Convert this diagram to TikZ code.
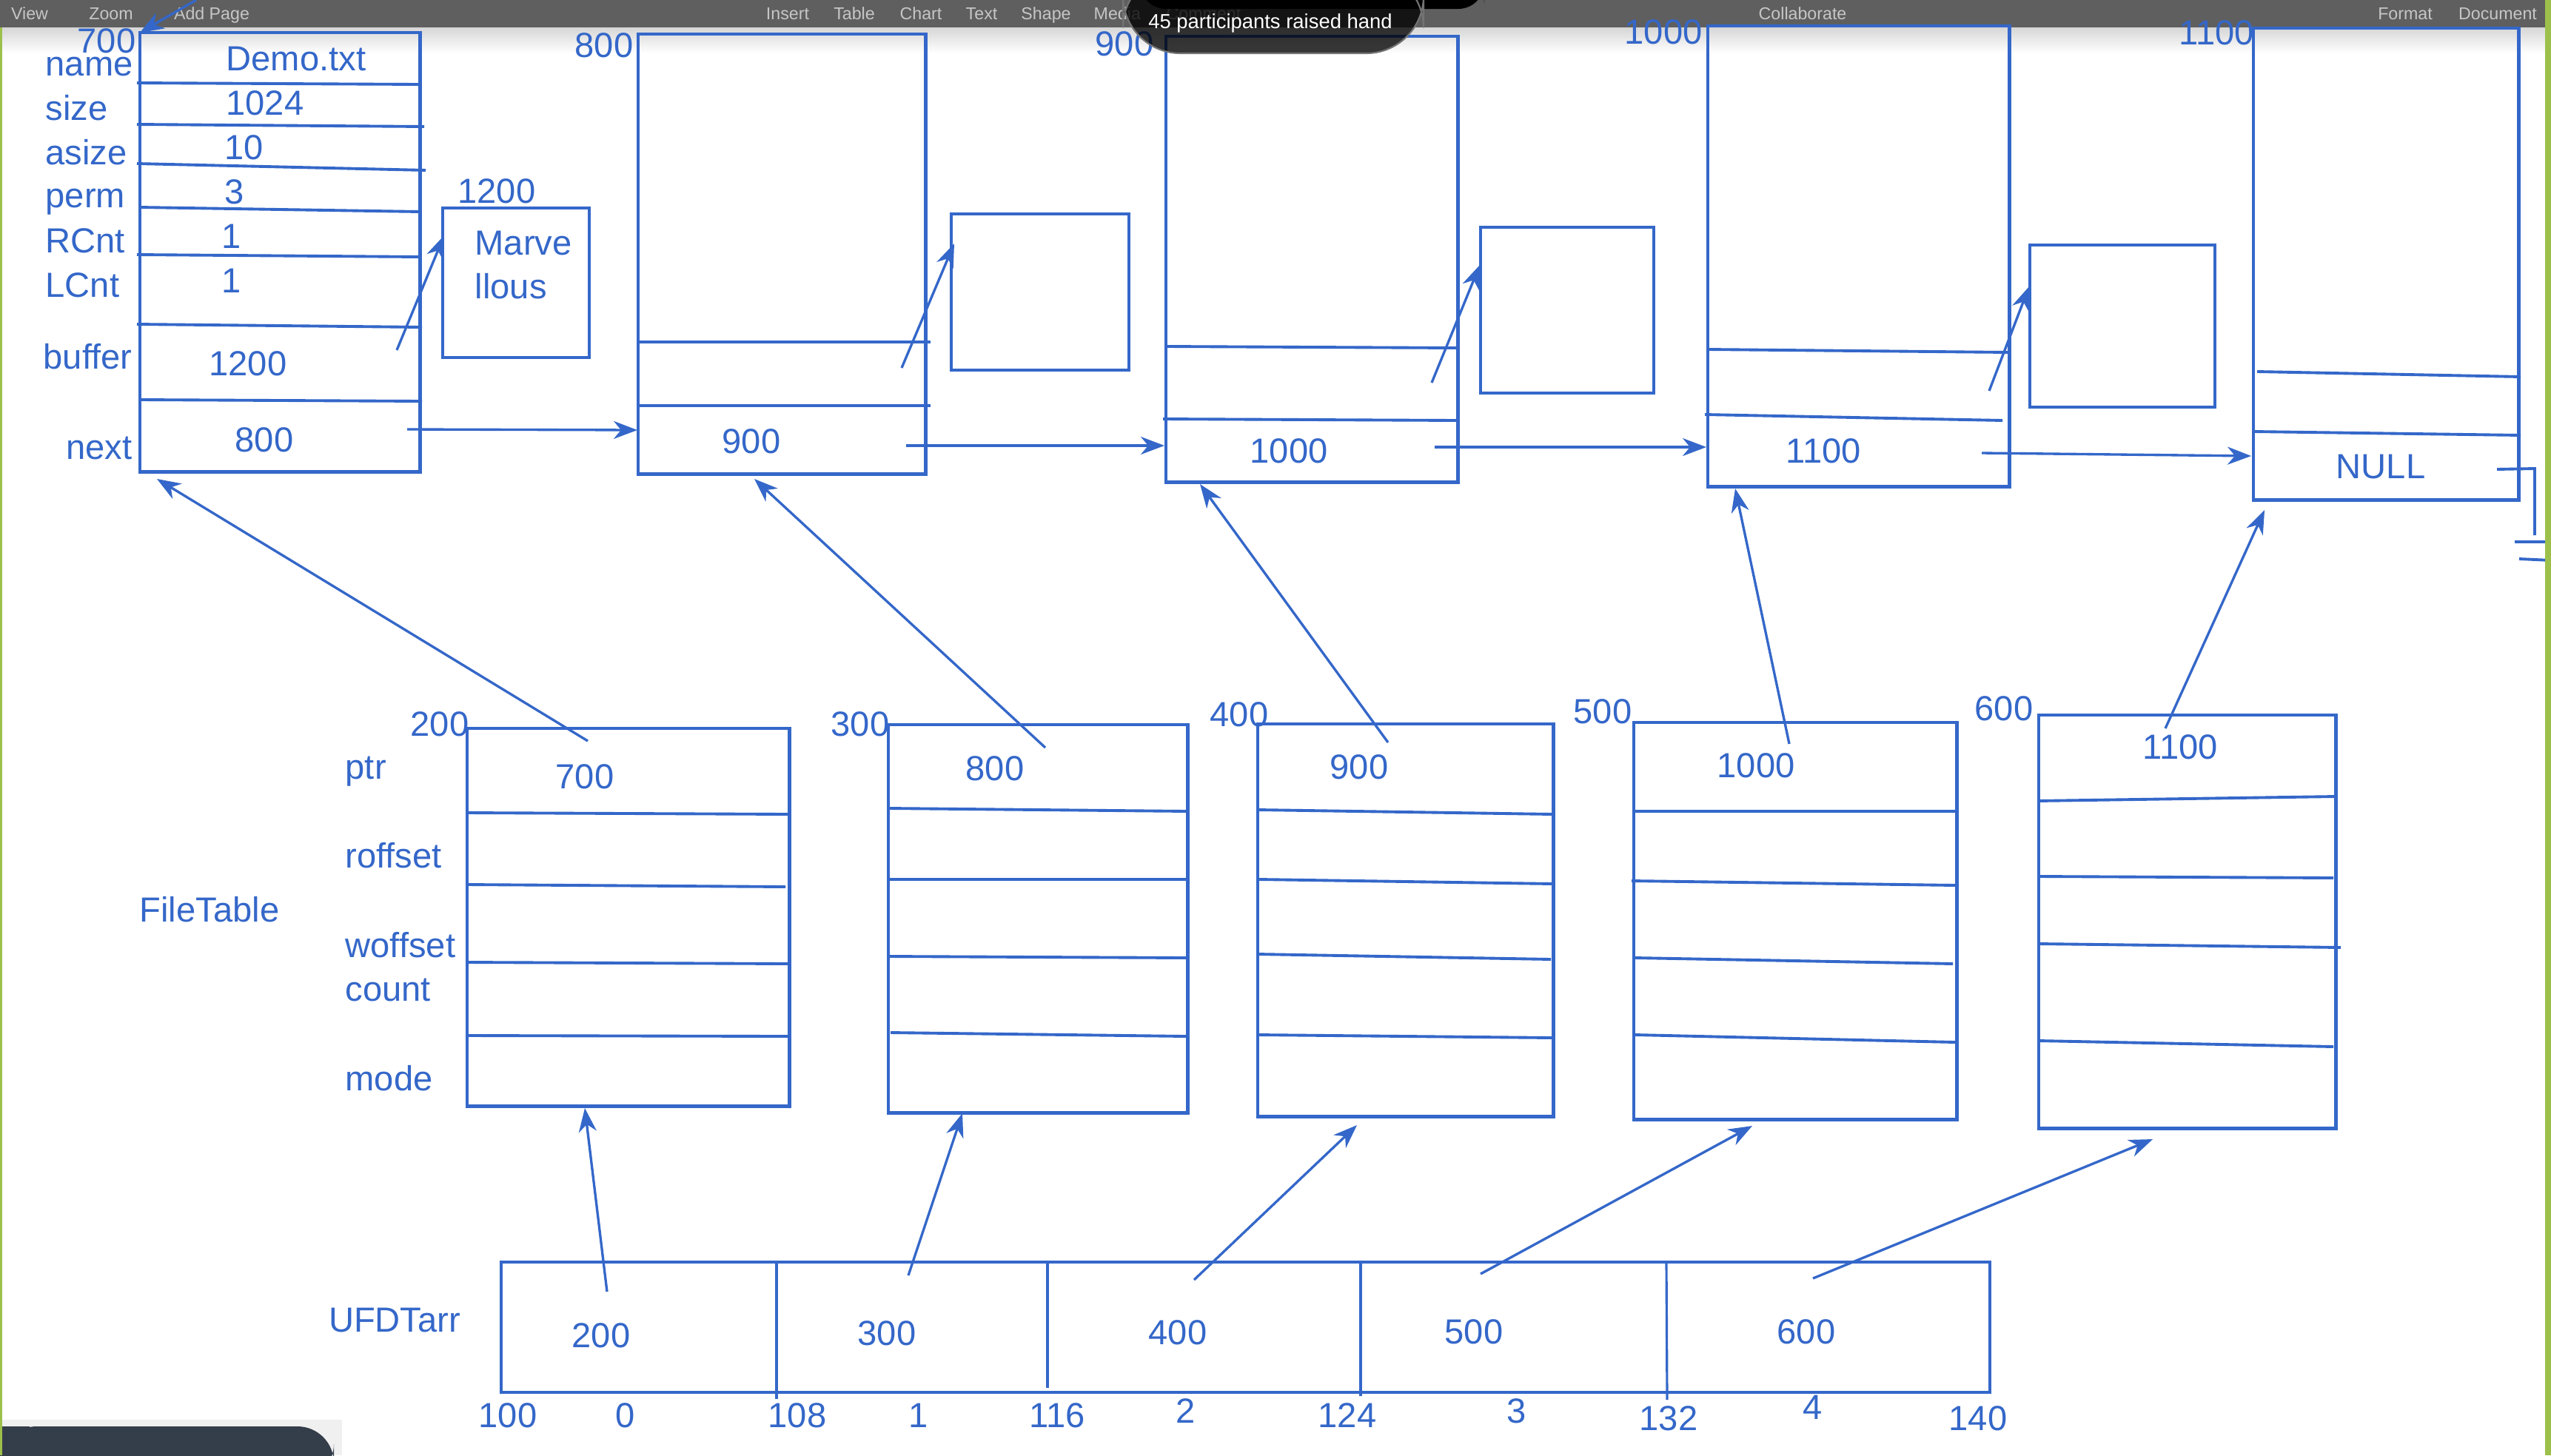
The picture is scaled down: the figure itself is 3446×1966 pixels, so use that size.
\documentclass[tikz,border=0pt]{standalone}
\usepackage{fontspec}
\setmainfont{Liberation Sans}
\usetikzlibrary{arrows.meta}
\definecolor{ink}{HTML}{3467C9}
\definecolor{barbg}{HTML}{5F5F5F}
\definecolor{bartext}{HTML}{C6C6C6}
\definecolor{edge}{HTML}{9CC04A}
\definecolor{chat}{HTML}{343D4A}
\begin{document}
\begin{tikzpicture}[x=0.01cm,y=-0.01cm,
  cellbox/.style={draw=ink, line width=1.3pt, inner sep=0pt, outer sep=0pt, anchor=north west},
  rowline/.style={draw=ink, line width=1.1pt},
  divline/.style={draw=ink, line width=0.9pt},
  arr/.style={draw=ink, line width=0.95pt, -{Stealth[length=0.32cm,width=0.24cm,inset=0.1cm]}},
  txt/.style={text=ink, font=\fontsize{13.4}{16}\selectfont, inner sep=0pt, text height=9.6pt, text depth=0pt},
  tb/.style={text=bartext, font=\fontsize{6.6}{8}\selectfont, inner sep=0pt, text height=4.7pt, text depth=0pt}]
\useasboundingbox (0,0) rectangle (3446,1966);
\clip (0,0) rectangle (3446,1966);
\fill[white] (0,0) rectangle (3446,1966);
% toolbar
\fill[barbg] (0,0) rectangle (3438,37);
\shade[top color=black!16, bottom color=white] (3,37) rectangle (3438,72);
\node[tb] (tbview) at (40,18) {View};
\node[tb] (tbzoom) at (150,18) {Zoom};
\node[tb] (tbadd) at (286,18) {Add Page};
\node[tb] (tbinsert) at (1064,18) {Insert};
\node[tb] (tbtable) at (1154,18) {Table};
\node[tb] (tbchart) at (1244,18) {Chart};
\node[tb] (tbtext) at (1326,18) {Text};
\node[tb] (tbshape) at (1413,18) {Shape};
\node[tb, anchor=west] (tbmedia) at (1477,18) {Media};
\node[tb] (tbcomment) at (1626,18) {Comment};
\node[tb] (tbcollab) at (2435,18) {Collaborate};
\node[tb] (tbformat) at (3249,18) {Format};
\node[tb] (tbdoc) at (3374,18) {Document};

% ---------- inode 700 ----------
\node[cellbox, minimum width=3.78cm, minimum height=5.93cm] (n700) at (189,44) {};
\draw[rowline] (185,112) -- (566,114);
\draw[rowline] (185,168) -- (573,171);
\draw[rowline] (185,221) -- (575,230);
\draw[rowline] (189,280) -- (567,286);
\draw[rowline] (185,344) -- (567,347);
\draw[rowline] (185,438) -- (570,442);
\draw[rowline] (189,540) -- (570,542);
\node[txt, anchor=east] (l700) at (184,55) {700};
\node[txt, anchor=west] (lname) at (61,86) {name};
\node[txt, anchor=west] (lsize) at (61,146) {size};
\node[txt, anchor=west] (lasize) at (61,206) {asize};
\node[txt, anchor=west] (lperm) at (61,264) {perm};
\node[txt, anchor=west] (lrcnt) at (61,325) {RCnt};
\node[txt, anchor=west] (llcnt) at (61,385) {LCnt};
\node[txt, anchor=east] (lbuffer) at (179,482) {buffer};
\node[txt, anchor=east] (lnext) at (179,604) {next};
\node[txt] (vname) at (400,79) {Demo.txt};
\node[txt] (vsize) at (358,139) {1024};
\node[txt] (vasize) at (330,199) {10};
\node[txt] (vperm) at (317,259) {3};
\node[txt] (vrcnt) at (313,319) {1};
\node[txt] (vlcnt) at (313,379) {1};
\node[txt] (vbuf) at (335,491) {1200};
\node[txt] (vnext) at (357,594) {800};

% Marvellous block
\node[cellbox, minimum width=1.98cm, minimum height=2.02cm] (nmarv) at (598,281) {};
\node[txt] (l1200) at (671,258) {1200};
\node[txt, anchor=west] (tmarve) at (641,328) {Marve};
\node[txt, anchor=west] (tllous) at (641,387) {llous};

% ---------- block 800 ----------
\node[cellbox, minimum width=3.88cm, minimum height=5.94cm] (n800) at (862,46) {};
\draw[rowline] (862,462) -- (1257,462);
\draw[rowline] (862,548) -- (1257,548);
\node[txt] (l800) at (816,61) {800};
\node[txt] (v800next) at (1015,596) {900};
\node[cellbox, minimum width=2.40cm, minimum height=2.11cm] (b800) at (1285,289) {};

% ---------- block 900 ----------
\node[cellbox, minimum width=3.94cm, minimum height=6.02cm] (n900) at (1575,49) {};
\draw[rowline] (1575,468) -- (1967,470);
\draw[rowline] (1571,566) -- (1969,568);
\node[txt] (l900) at (1519,59) {900};
\node[txt] (v900next) at (1741,609) {1000};
\node[cellbox, minimum width=2.34cm, minimum height=2.24cm] (b900) at (2000,307) {};

% ---------- block 1000 ----------
\node[cellbox, minimum width=4.07cm, minimum height=6.22cm] (n1000) at (2307,35) {};
\draw[rowline] (2307,472) -- (2712,476);
\draw[rowline] (2303,560) -- (2705,568);
\node[txt] (l1000) at (2247,43) {1000};
\node[txt] (v1000next) at (2463,609) {1100};
\node[cellbox, minimum width=2.50cm, minimum height=2.19cm] (b1000) at (2742,331) {};

% ---------- block 1100 ----------
\node[cellbox, minimum width=3.58cm, minimum height=6.37cm] (n1100) at (3044,38) {};
\draw[rowline] (3049,502) -- (3405,509);
\draw[rowline] (3045,583) -- (3405,588);
\node[txt] (l1100) at (2994,44) {1100};
\node[txt] (vnull) at (3216,630) {NULL};
\draw[ink, line width=1.1pt] (3373,634) -- (3424,633) -- (3424,723);
\draw[ink, line width=1.1pt] (3397,732) -- (3446,732);
\draw[ink, line width=1.1pt] (3403,755) -- (3446,757);

% ---------- arrows in the upper row ----------
\coordinate (s0) at (265,0);
\draw[arr] (s0) -- (n700.north west);
\coordinate (sm) at (536,473); \coordinate (tm) at (600,318);
\draw[arr] (sm) -- (tm);
\coordinate (sn1) at (550,580); \coordinate (tn1) at (861,581);
\draw[arr] (sn1) -- (tn1);
\coordinate (sb8) at (1218,497); \coordinate (tb8) at (1289,329);
\draw[arr] (sb8) -- (tb8);
\coordinate (sn2) at (1224,602); \coordinate (tn2) at (1573,602);
\draw[arr] (sn2) -- (tn2);
\coordinate (sb9) at (1934,517); \coordinate (tb9) at (1999,358);
\draw[arr] (sb9) -- (tb9);
\coordinate (sn3) at (1938,604); \coordinate (tn3) at (2305,604);
\draw[arr] (sn3) -- (tn3);
\coordinate (sb10) at (2687,528); \coordinate (tb10) at (2741,387);
\draw[arr] (sb10) -- (tb10);
\coordinate (sn4) at (2677,612); \coordinate (tn4) at (3041,616);
\draw[arr] (sn4) -- (tn4);

% ---------- file table ----------
\node[txt] (lft) at (283,1229) {FileTable};
\node[txt, anchor=west] (lptr) at (466,1036) {ptr};
\node[txt, anchor=west] (lroff) at (466,1156) {roffset};
\node[txt, anchor=west] (lwoff) at (466,1277) {woffset};
\node[txt, anchor=west] (lcount) at (466,1336) {count};
\node[txt, anchor=west] (lmode) at (466,1457) {mode};

\node[cellbox, minimum width=4.35cm, minimum height=5.10cm] (f200) at (631,984) {};
\draw[rowline] (631,1098) -- (1066,1100);
\draw[rowline] (631,1195) -- (1061,1198);
\draw[rowline] (631,1300) -- (1066,1302);
\draw[rowline] (633,1399) -- (1066,1400);
\node[txt] (l200) at (594,978) {200};
\node[txt] (v200) at (790,1049) {700};

\node[cellbox, minimum width=4.04cm, minimum height=5.24cm] (f300) at (1200,979) {};
\draw[rowline] (1201,1092) -- (1604,1096);
\draw[rowline] (1200,1188) -- (1604,1188);
\draw[rowline] (1200,1292) -- (1604,1294);
\draw[rowline] (1203,1395) -- (1602,1400);
\node[txt] (l300) at (1162,978) {300};
\node[txt] (v300) at (1344,1038) {800};

\node[cellbox, minimum width=3.99cm, minimum height=5.30cm] (f400) at (1699,978) {};
\draw[rowline] (1699,1094) -- (2097,1100);
\draw[rowline] (1701,1188) -- (2097,1194);
\draw[rowline] (1699,1289) -- (2095,1296);
\draw[rowline] (1699,1398) -- (2097,1402);
\node[txt] (l400) at (1674,965) {400};
\node[txt] (v400) at (1836,1036) {900};

\node[cellbox, minimum width=4.36cm, minimum height=5.36cm] (f500) at (2207,976) {};
\draw[rowline] (2209,1096) -- (2641,1096);
\draw[rowline] (2204,1190) -- (2641,1196);
\draw[rowline] (2209,1294) -- (2638,1302);
\draw[rowline] (2209,1398) -- (2641,1408);
\node[txt] (l500) at (2165,961) {500};
\node[txt] (v500) at (2372,1034) {1000};

\node[cellbox, minimum width=4.01cm, minimum height=5.58cm] (f600) at (2754,966) {};
\draw[rowline] (2752,1082) -- (3155,1076);
\draw[rowline] (2754,1184) -- (3152,1186);
\draw[rowline] (2754,1275) -- (3162,1280);
\draw[rowline] (2754,1406) -- (3152,1414);
\node[txt] (l600) at (2707,957) {600};
\node[txt] (v600) at (2945,1009) {1100};

% arrows file table -> blocks
\coordinate (sf1) at (794,1001); \coordinate (tf1) at (212,647);
\draw[arr] (sf1) -- (tf1);
\coordinate (sf2) at (1412,1010); \coordinate (tf2) at (1019,647);
\draw[arr] (sf2) -- (tf2);
\coordinate (sf3) at (1875,1003); \coordinate (tf3) at (1621,654);
\draw[arr] (sf3) -- (tf3);
\coordinate (sf4) at (2417,1005); \coordinate (tf4) at (2344,660);
\draw[arr] (sf4) -- (tf4);
\coordinate (sf5) at (2925,984); \coordinate (tf5) at (3059,689);
\draw[arr] (sf5) -- (tf5);

% ---------- UFDTarr ----------
\node[txt] (lufd) at (533,1783) {UFDTarr};
\node[cellbox, minimum width=20.10cm, minimum height=1.76cm] (ufd) at (677,1705) {};
\draw[divline] (1049,1705) -- (1049,1890);
\draw[divline] (1415,1705) -- (1415,1875);
\draw[divline] (1838,1707) -- (1838,1886);
\draw[divline] (2251,1707) -- (2252,1891);
\node[txt] (u200) at (812,1804) {200};
\node[txt] (u300) at (1198,1801) {300};
\node[txt] (u400) at (1591,1800) {400};
\node[txt] (u500) at (1991,1799) {500};
\node[txt] (u600) at (2440,1799) {600};
\node[txt] (i100) at (686,1912) {100};
\node[txt] (i0) at (845,1912) {0};
\node[txt] (i108) at (1077,1912) {108};
\node[txt] (i1) at (1241,1912) {1};
\node[txt] (i116) at (1428,1912) {116};
\node[txt] (i2) at (1602,1906) {2};
\node[txt] (i124) at (1820,1912) {124};
\node[txt] (i3) at (2049,1906) {3};
\node[txt] (i132) at (2254,1916) {132};
\node[txt] (i4) at (2449,1901) {4};
\node[txt] (i140) at (2672,1916) {140};

\coordinate (su1) at (820,1745); \coordinate (tu1) at (790,1497);
\draw[arr] (su1) -- (tu1);
\coordinate (su2) at (1227,1723); \coordinate (tu2) at (1300,1504);
\draw[arr] (su2) -- (tu2);
\coordinate (su3) at (1613,1729); \coordinate (tu3) at (1833,1520);
\draw[arr] (su3) -- (tu3);
\coordinate (su4) at (2000,1721); \coordinate (tu4) at (2367,1521);
\draw[arr] (su4) -- (tu4);
\coordinate (su5) at (2449,1727); \coordinate (tu5) at (2908,1539);
\draw[arr] (su5) -- (tu5);

% ---------- overlays ----------
\fill[black, rounded corners=10] (1540,-30) rectangle (2005,12);
\fill[black, opacity=0.78, rounded corners=22] (1517,-40) rectangle (1923,72);
\draw[black!55, line width=0.6pt, rounded corners=22] (1517,-40) rectangle (1923,72);
\node[text=white, font=\fontsize{7.8}{9}\selectfont, inner sep=0pt, text height=5.6pt, text depth=0pt] (popup) at (1716,29) {45 participants raised hand};
\fill[black!6] (0,1918) rectangle (462,1966);
\fill[chat, rounded corners=14] (0,1927) rectangle (451,2000);
\fill[chat] (0,1927) rectangle (40,2000);
\fill[edge] (0,37) rectangle (3,1966);
\fill[edge] (3438,0) rectangle (3446,1966);
\end{tikzpicture}
\end{document}
